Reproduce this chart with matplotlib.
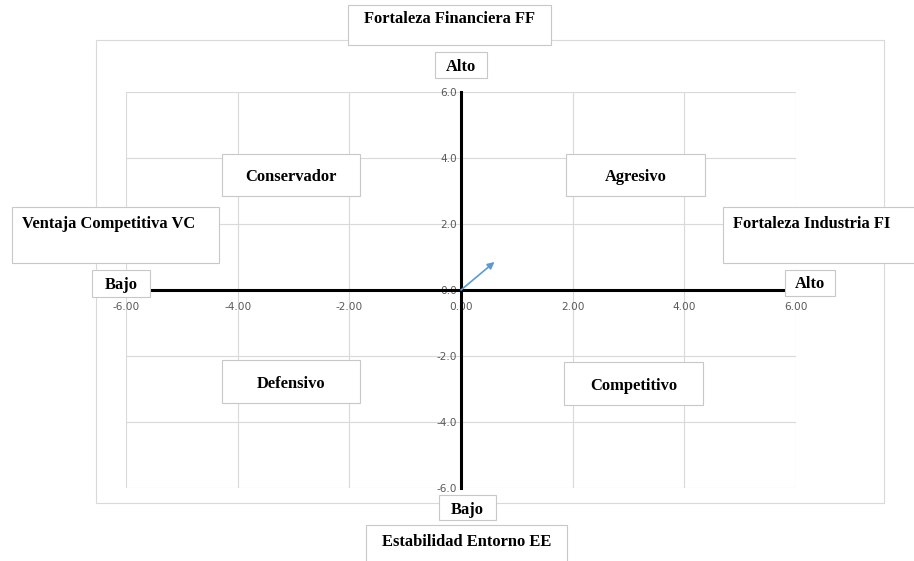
import matplotlib
matplotlib.use("Agg")
import matplotlib.pyplot as plt
from matplotlib.patches import Rectangle

# Data
x_ticks = [-6, -4, -2, 0, 2, 4, 6]
y_ticks = [-6, -4, -2, 0, 2, 4, 6]
vector_x = [0.0, 0.6]
vector_y = [0.0, 0.85]

quadrant_labels = ["Conservador", "Agresivo", "Defensivo", "Competitivo"]
axis_titles = ["Fortaleza Financiera FF", "Estabilidad Entorno EE",
               "Ventaja Competitiva VC", "Fortaleza Industria FI"]
level_labels = ["Alto", "Bajo", "Bajo", "Alto"]

W, H = 914, 561
fig = plt.figure(figsize=(W / 100, H / 100), dpi=100)
fig.patch.set_facecolor("white")

def fx(px):
    return px / W

def fy(py):
    return 1 - py / H

# outer chart border
fig.patches.append(Rectangle((fx(96), fy(503)), (884 - 96) / W, (503 - 40) / H,
                             transform=fig.transFigure, fill=False,
                             edgecolor="#d9d9d9", lw=0.8, zorder=0))

ax = fig.add_axes([fx(126), fy(488), (796 - 126) / W, (488 - 92) / H])
ax.set_xlim(-6, 6)
ax.set_ylim(-6, 6)
ax.set_xticks(x_ticks)
ax.set_yticks(y_ticks)
ax.set_xticklabels([f"{v:.2f}" for v in x_ticks])
ax.set_yticklabels([f"{v:.1f}" for v in y_ticks])
ax.grid(True, color="#d9d9d9", lw=0.8)
ax.set_axisbelow(True)
for s in ["top", "right"]:
    ax.spines[s].set_visible(False)
ax.spines["left"].set_position("zero")
ax.spines["bottom"].set_position("zero")
ax.spines["left"].set_linewidth(2.2)
ax.spines["bottom"].set_linewidth(2.2)
ax.spines["left"].set_zorder(3)
ax.spines["bottom"].set_zorder(3)
ax.tick_params(axis="x", length=0, pad=9, labelsize=7.6, labelcolor="#595959")
ax.tick_params(axis="y", length=0, pad=3, labelsize=7.6, labelcolor="#595959")
for lab in ax.get_xticklabels() + ax.get_yticklabels():
    lab.set_zorder(4)

ax.annotate("", xy=(vector_x[1], vector_y[1]), xytext=(vector_x[0], vector_y[0]),
            arrowprops=dict(arrowstyle="-|>", color="#5b9bd5", lw=1.2,
                            mutation_scale=10, shrinkA=0, shrinkB=0), zorder=5)

FONT = ["Liberation Serif", "DejaVu Serif"]

def box(x0, y0, x1, y1, text, tx=None, ty=None, ha="center", size=11.9):
    fig.patches.append(Rectangle((fx(x0), fy(y1)), (x1 - x0) / W, (y1 - y0) / H,
                                 transform=fig.transFigure, facecolor="white",
                                 edgecolor="#c8c8c8", lw=0.8, zorder=5))
    if tx is None:
        tx = (x0 + x1) / 2
    if ty is None:
        ty = (y0 + y1) / 2 + 2
    fig.text(fx(tx), fy(ty), text, ha=ha, va="center", fontsize=size,
             fontweight="bold", family=FONT, zorder=6)

# axis titles
box(348, 5, 551, 45, axis_titles[0], ty=19)
box(366, 525, 567, 570, axis_titles[1], ty=542)
box(12, 207, 219, 263, axis_titles[2], tx=22, ty=224, ha="left")
box(723, 207, 920, 263, axis_titles[3], tx=733, ty=224, ha="left")

# level labels
box(435, 52, 487, 78, level_labels[0], ty=67)
box(439, 495, 496, 520, level_labels[1], ty=510)
box(92, 270, 150, 297, level_labels[2], ty=285)
box(785, 270, 835, 296, level_labels[3], ty=284)

# quadrant labels
box(222, 154, 360, 196, quadrant_labels[0])
box(566, 154, 705, 196, quadrant_labels[1])
box(222, 360, 360, 403, quadrant_labels[2])
box(564, 362, 703, 405, quadrant_labels[3])

fig.savefig("out.png", dpi=100)
